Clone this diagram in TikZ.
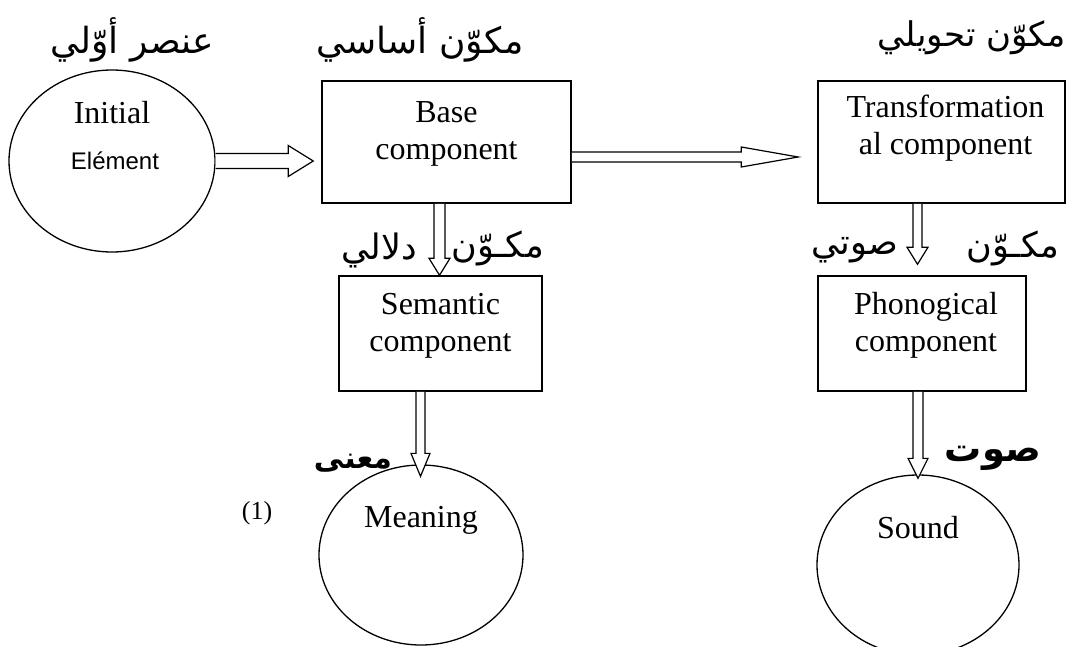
\documentclass[tikz,border=0pt]{standalone}
\usepackage{fontspec}
\setmainfont{Liberation Serif}
\newfontfamily\arialfont{Liberation Sans}
\newfontfamily\arabicfont[Script=Arabic]{DejaVu Sans}
\TeXXeTstate=1
\usetikzlibrary{shapes.geometric,calc}

\tikzset{
  box/.style={draw, rectangle, line width=1.5pt, inner sep=0pt},
  oval/.style={draw, ellipse, line width=1.3pt, inner sep=0pt},
  txt/.style={align=center, inner sep=0pt, font=\fontsize{32}{37}\selectfont},
  ar/.style={inner sep=0pt, font=\arabicfont\fontsize{35}{40}\selectfont},
  artitle/.style={ar, font=\arabicfont\fontsize{36}{42}\selectfont},
  arb/.style={ar, font=\arabicfont\bfseries\fontsize{30}{36}\selectfont},
  hollow/.style={draw, fill=white, line width=1.2pt, line join=miter}
}

% hollow block arrows: start, end, shaft half width, head half width, head length
\newcommand{\hollowright}[5]{%
  \path[hollow] let \p1=(#1), \p2=(#2) in
    (\x1,\y1+#3) -- (\x2-#5,\y1+#3) -- (\x2-#5,\y1+#4) -- (\x2,\y1)
    -- (\x2-#5,\y1-#4) -- (\x2-#5,\y1-#3) -- (\x1,\y1-#3);}
\newcommand{\hollowdown}[5]{%
  \path[hollow] let \p1=(#1), \p2=(#2) in
    (\x1-#3,\y1) -- (\x1-#3,\y2+#5) -- (\x1-#4,\y2+#5) -- (\x1,\y2)
    -- (\x1+#4,\y2+#5) -- (\x1+#3,\y2+#5) -- (\x1+#3,\y1);}

\begin{document}
\begin{tikzpicture}[x=1pt,y=-1pt]
\useasboundingbox (0,0) rectangle (1069,646);

% titles
\node[artitle] (tinit) at (132,40) {\beginR عنصر أوّلي\endR};
\node[artitle] (tbase) at (420,40) {\beginR مكوّن أساسي\endR};
\node[artitle, anchor=east, font=\arabicfont\fontsize{34}{40}\selectfont] (ttrans) at (1066,38) {\beginR مكوّن تحويلي\endR};

% shapes
\node[oval, minimum width=206, minimum height=182] (init) at (112,161) {};
\node[box, minimum width=249, minimum height=122] (base) at (446.5,142) {};
\node[box, minimum width=247, minimum height=122] (trans) at (941.5,142) {};
\node[box, minimum width=203, minimum height=115] (sem) at (440.5,333.5) {};
\node[box, minimum width=208, minimum height=115] (phon) at (922,333.5) {};
\node[oval, minimum width=204, minimum height=180] (mean) at (421,555) {};
\node[oval, minimum width=202, minimum height=180] (snd) at (918,565) {};

% texts
\node[txt] (initA) at ([yshift=48pt]init.center) {Initial};
\node[txt, font=\arialfont\fontsize{24}{28}\selectfont] (initB) at ([xshift=3pt]init.center) {Elément};
\node[txt] (basetxt) at ([yshift=8.5pt]base.center) {Base\\component};
\node[txt] (transtxt) at ([yshift=14pt,xshift=4pt]trans.center) {Transformation\\al component};
\node[txt] (semtxt) at ([yshift=7.5pt]sem.center) {Semantic\\component};
\node[txt] (phontxt) at ([yshift=8pt,xshift=4pt]phon.center) {Phonogical\\component};
\node[txt] (meantxt) at ([yshift=35pt]mean.center) {Meaning};
\node[txt] (sndtxt) at ([yshift=37pt]snd.center) {Sound};
\node[txt, font=\fontsize{26}{30}\selectfont] (num) at (257,513) {(1)};

% arrows
\hollowright{init.east}{$(base.west)+(-8,0)$}{7.5}{15.5}{25}
\hollowright{$(base.east)+(0,15)$}{$(trans.west)+(-19,0)$}{5}{10}{57}
\hollowdown{$(base.south)+(-7,0)$}{sem.north}{5.5}{10.5}{17}
\hollowdown{$(sem.south)+(-20,0)$}{$(mean.north)+(0,12)$}{4.5}{9.5}{23}
\hollowdown{$(trans.south)+(-24,0)$}{$(phon.north)+(0,-11)$}{4.5}{10.5}{17}
\hollowdown{$(phon.south)+(-4,0)$}{$(snd.north)+(0,4)$}{5}{10}{20}

% arrow labels
\node[ar] (semR) at (498,248) {\beginR مكـوّن\endR};
\node[ar] (semL) at (379,250) {\beginR دلالي\endR};
\node[ar] (phonR) at (1013,248) {\beginR مكـوّن\endR};
\node[ar] (phonL) at (855,250) {\beginR صوتي\endR};
\node[arb] (meanlbl) at (353,463) {\beginR معنى\endR};
\node[arb, font=\arabicfont\bfseries\fontsize{37}{42}\selectfont] (sndlbl) at (993,458) {\beginR صوت\endR};
\end{tikzpicture}
\end{document}
